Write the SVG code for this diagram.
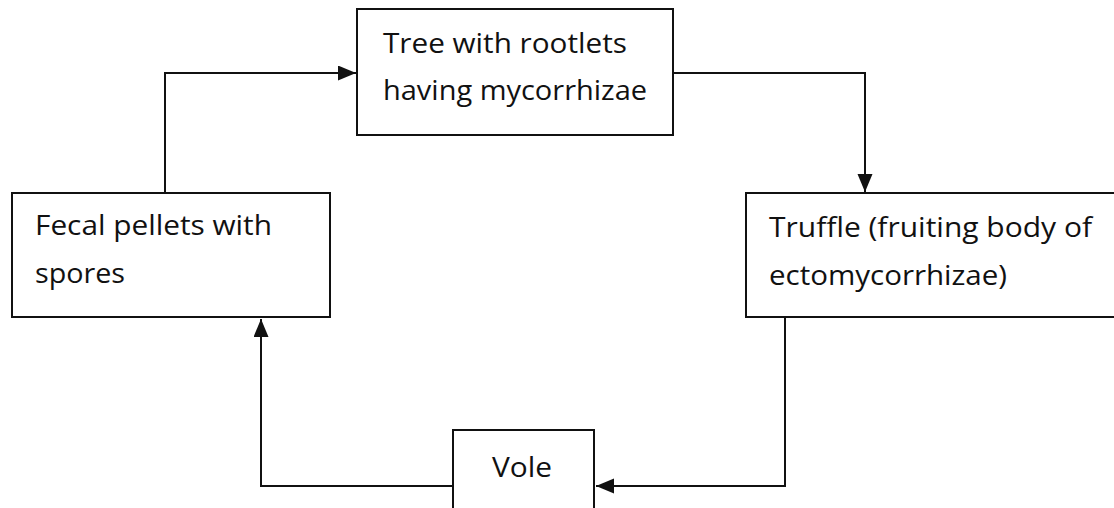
<svg xmlns="http://www.w3.org/2000/svg" width="1114" height="508" viewBox="0 0 1114 508">
<style>
.box{fill:#fff;stroke:#111;stroke-width:2}
.lbl{font-family:"Open Sans","Noto Sans","Liberation Sans",sans-serif;font-size:28px;fill:#111}
.conn{fill:none;stroke:#111;stroke-width:2}
</style>
<defs>
<marker id="ah" markerUnits="userSpaceOnUse" markerWidth="20" markerHeight="16" refX="18" refY="7.5" orient="auto">
<path d="M0,0 L18,7.5 L0,15 Z" fill="#111"/>
</marker>
</defs>
<rect width="1114" height="508" fill="#fff"/>
<g id="connectors">
<polyline class="conn" points="165,193 165,73 356,73" marker-end="url(#ah)"/>
<polyline class="conn" points="673,73 865,73 865,192" marker-end="url(#ah)"/>
<polyline class="conn" points="785,318 785,486 596,486" marker-end="url(#ah)"/>
<polyline class="conn" points="453,486 261,486 261,319" marker-end="url(#ah)"/>
</g>
<g id="node-tree">
<rect class="box" x="357" y="9" width="316" height="126"/>
<text class="lbl" x="383" y="53" textLength="244" lengthAdjust="spacingAndGlyphs">Tree with rootlets</text>
<text class="lbl" x="383" y="100" textLength="264" lengthAdjust="spacingAndGlyphs">having mycorrhizae</text>
</g>
<g id="node-truffle">
<rect class="box" x="746" y="193" width="380" height="124"/>
<text class="lbl" x="769" y="237" textLength="323" lengthAdjust="spacingAndGlyphs">Truffle (fruiting body of</text>
<text class="lbl" x="769" y="285" textLength="238" lengthAdjust="spacingAndGlyphs">ectomycorrhizae)</text>
</g>
<g id="node-vole">
<rect class="box" x="453" y="430" width="141" height="100"/>
<text class="lbl" x="492" y="477" textLength="60" lengthAdjust="spacingAndGlyphs">Vole</text>
</g>
<g id="node-fecal">
<rect class="box" x="12" y="193" width="318" height="124"/>
<text class="lbl" x="35" y="235" textLength="237" lengthAdjust="spacingAndGlyphs">Fecal pellets with</text>
<text class="lbl" x="35" y="283" textLength="90" lengthAdjust="spacingAndGlyphs">spores</text>
</g>
</svg>
